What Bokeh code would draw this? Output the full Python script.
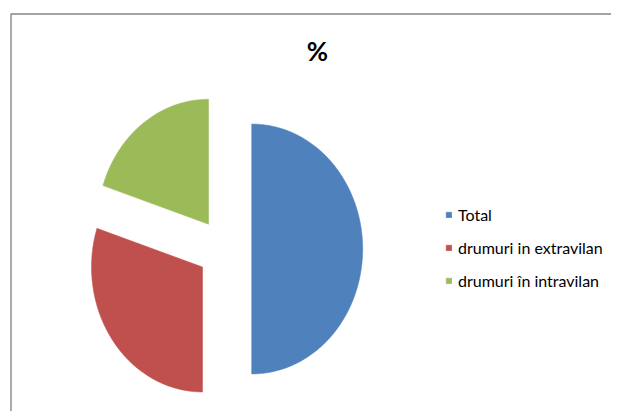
import math
from bokeh.plotting import figure
from bokeh.models import Range1d, Legend, LegendItem, ColumnDataSource
from bokeh.core.properties import value
from bokeh.embed import file_html
from bokeh.resources import INLINE

# ---- data ----
categories = ["Total", "drumuri in extravilan", "drumuri în intravilan"]
values = [50, 30, 20]
colors = ["#4F81BD", "#C0504D", "#9BBB59"]
title_text = "%"

# ---- layout constants (screen pixels inside figure) ----
W, H = 611, 411
CX, CY = 224.0, 248.5      # pie centre
RX, RY = 111.0, 125.0      # pie radii (slightly elliptical)
EXPLODE = 0.245            # explode offset as fraction of radius

p = figure(width=W, height=H, output_backend="svg", toolbar_location=None,
           x_range=Range1d(0, W), y_range=Range1d(H, 0),
           min_border=0, outline_line_color=None)
p.xaxis.visible = False
p.yaxis.visible = False
p.grid.visible = False
p.background_fill_color = "white"
p.border_fill_color = "white"

# chart area border (left + top, running to the edge)
p.line(x=[10.5, 10.5, W], y=[H, 13.5, 13.5], line_color="#878787", line_width=1.4)

# pie slices as patches (clockwise from 12 o'clock)
total = float(sum(values))
renderers = []
start = 0.0
for cat, v, c in zip(categories, values, colors):
    span = 2 * math.pi * v / total
    end = start + span
    mid = (start + end) / 2
    ox = CX + EXPLODE * RX * math.sin(mid)
    oy = CY - EXPLODE * RY * math.cos(mid)
    n = max(8, int(120 * v / total))
    xs = [ox]
    ys = [oy]
    for i in range(n + 1):
        t = start + span * i / n
        xs.append(ox + RX * math.sin(t))
        ys.append(oy - RY * math.cos(t))
    src = ColumnDataSource(dict(x=xs, y=ys))
    r = p.patch("x", "y", source=src, fill_color=c, line_color=c, line_width=0.5)
    renderers.append(r)
    start = end

# title
p.text(x=[317], y=[50], text=[title_text], text_font=value("Lato"),
       text_font_size="26px", text_font_style="bold", text_align="center",
       text_baseline="middle", text_color="black")

legend = Legend(items=[LegendItem(label=cat, renderers=[r]) for cat, r in zip(categories, renderers)],
                location=(445, 121), orientation="vertical",
                glyph_width=7, glyph_height=7, label_standoff=6,
                label_text_font="Lato", label_text_font_size="16px",
                label_text_color="black", label_height=20, spacing=13,
                padding=0, margin=0, border_line_color=None,
                background_fill_alpha=0)
p.add_layout(legend, "center")

open("out.html", "w").write(file_html(p, INLINE))
